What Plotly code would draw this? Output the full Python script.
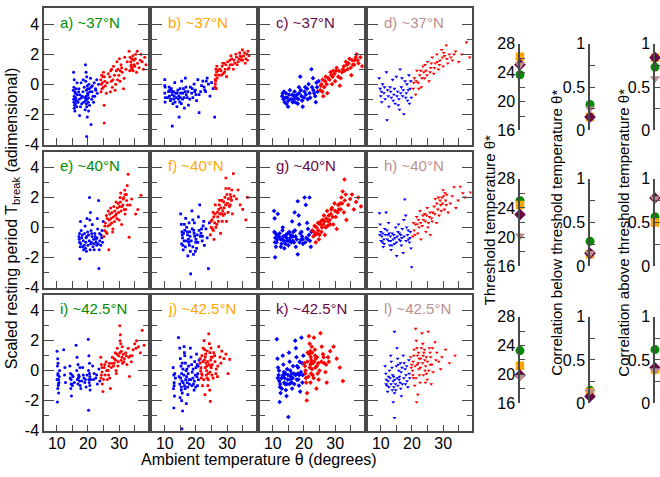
import plotly.graph_objects as go

# ---- scatter panels: (ambient temperature, scaled resting period) ----
A_BLUE = [(15.4,0.8),(15.6,0.3),(15.5,-0.2),(15.8,-0.5),(15.6,-0.8),(15.9,-1.0),(15.5,-1.2),(15.7,-1.4),(15.6,-1.6),(16.1,-0.9),(16.3,-1.1),(16.0,-0.6),(16.4,-1.5),(15.4,-1.0),(16.2,-0.3),
          (17.1,-0.3),(17.4,-0.7),(17.2,-1.0),(17.6,-1.5),(17.3,-2.1),(17.8,0.1),(17.9,-0.9),(18.4,-0.5),(18.6,-1.2),(18.2,-0.8),
          (19.2,1.3),(19.4,0.8),(19.6,0.5),(19.3,0.2),(19.8,-0.1),(19.5,-0.4),(19.9,-0.6),(19.4,-0.8),(19.7,-1.0),(20.1,-1.2),(19.6,-1.5),(20.2,-1.8),(19.8,-2.2),(19.6,-3.5),(20.4,-0.3),(20.3,0.0),(20.0,-0.7),(19.5,-1.3),
          (21.0,-0.2),(21.3,-0.5),(21.6,-0.8),(22.0,0.1),(22.4,-0.3),(21.8,-1.2),(21.0,-2.7),(22.8,0.3),(23.0,-0.6),(23.4,0.0),(22.5,-0.4),(21.4,-0.1),
          (15.3,-0.4),(15.8,-1.8),(16.0,-1.3),(16.6,-0.7),(16.8,-1.2),(17.0,-0.5),(18.0,-1.3),(18.8,-0.2),(19.0,-0.9),(19.2,-1.1),(19.9,-0.3),(20.2,-0.9),(20.5,-1.4),(20.6,-0.5),(20.8,0.4),(21.2,-1.0),(22.2,-0.8),(18.5,0.3),(16.5,0.1),(19.1,-1.7)]
A_RED = [(24.1,0.3),(24.3,0.0),(24.5,-0.3),(24.2,-0.5),(24.8,0.5),(25.2,-1.4),(25.2,-2.6),(25.4,0.2),(25.6,-0.1),(25.9,-0.6),(25.0,0.8),(24.6,0.1),
         (27.0,0.5),(27.3,0.9),(27.5,0.2),(27.8,-0.2),(28.2,1.2),(28.5,0.6),(28.7,-0.4),(28.9,0.0),(27.2,-0.5),
         (29.3,1.5),(29.6,1.0),(29.9,0.6),(30.3,0.2),(30.6,1.3),(31.0,0.8),(31.4,-0.3),(31.8,1.8),(31.6,0.4),(30.8,1.1),
         (33.2,2.2),(33.5,1.8),(33.7,1.5),(33.9,1.3),(34.2,1.1),(34.5,0.9),(34.7,1.6),(35.0,1.2),(35.3,2.0),(35.6,0.8),(35.9,1.4),(34.0,1.0),(34.4,1.9),(33.8,1.2),
         (37.0,2.0),(37.4,1.5),(37.8,1.0),(38.2,1.8),(38.6,1.3),
         (24.4,0.6),(24.9,-0.2),(25.3,0.5),(26.2,0.1),(26.5,0.7),(27.6,1.0),(28.0,0.3),(29.1,0.9),(29.5,0.3),(30.1,1.7),(30.4,0.9),(32.2,1.0),(32.6,1.5),(33.4,0.9),(34.1,1.7),(34.8,1.3),(35.2,1.7),(35.8,2.2),(36.4,1.1),(36.8,1.6)]

B_BLUE = [(10.0,0.3),(10.1,-0.2),(10.0,-0.6),(10.2,-0.9),(10.1,-1.2),
          (11.2,-0.5),(11.5,-0.8),(11.8,-1.1),(12.1,-0.3),(12.4,-0.7),(12.6,-1.3),(12.9,-1.0),(13.2,0.1),(13.5,-0.6),(12.4,-2.8),(13.7,-0.9),(13.9,-1.5),(11.6,-0.4),(12.8,-0.5),
          (14.2,-0.4),(14.5,-0.8),(14.6,-2.2),(14.8,-1.2),(15.1,-0.6),(15.4,0.2),(15.7,-1.0),(16.0,-0.3),(16.3,-1.6),(16.6,0.4),(16.9,-0.7),(17.2,-0.9),(17.6,-1.4),(15.0,-0.9),(16.5,-0.5),
          (18.2,-0.2),(18.6,-0.6),(19.0,-0.9),(19.4,0.0),(19.8,-0.4),(20.2,-1.1),(20.6,0.3),(21.0,-0.7),(21.0,-1.9),(21.5,-0.5),(19.6,-0.5),
          (22.2,0.2),(22.6,-0.2),(23.1,-0.5),(23.6,0.4),(24.0,0.0),(24.5,-0.8),(26.0,-2.2),(25.0,0.1),(25.5,-0.3),(23.3,0.2),
          (10.0,-0.1),(11.0,-0.9),(11.4,-0.2),(12.0,-1.0),(12.2,-0.5),(13.0,-0.8),(13.3,-1.2),(14.0,-0.6),(14.4,-1.0),(14.9,-0.3),(15.3,-1.3),(15.8,-0.6),(16.2,-0.9),(16.8,-0.2),(17.4,-0.5),(18.0,-1.0),(18.8,-0.3),(20.0,-0.7),(21.8,-0.1),(22.8,-0.4)]
B_RED = [(26.1,-0.2),(26.2,0.3),(26.3,0.6),(26.4,1.0),(26.2,0.0),(26.6,0.8),(26.8,0.4),(26.5,-0.3),(27.0,0.9),
         (28.0,0.9),(28.4,1.2),(28.7,0.7),(29.0,1.4),(29.4,1.0),(29.8,0.5),(28.2,0.6),
         (30.2,1.5),(30.6,1.1),(31.0,1.3),(31.5,1.7),(32.0,1.0),(32.5,1.4),(31.2,1.9),
         (33.0,1.8),(33.5,1.5),(34.0,2.1),(34.4,1.6),(34.9,2.3),(35.3,1.9),(35.8,1.4),(36.3,2.0),(36.7,2.2),(34.6,1.8),
         (26.3,0.2),(26.7,1.2),(27.3,0.6),(27.6,1.0),(28.6,1.4),(29.2,0.8),(29.6,1.3),(30.4,1.0),(30.9,1.6),(31.7,1.3),(32.2,1.6),(32.8,2.0),(33.2,1.3),(33.8,1.7),(34.2,1.9),(35.0,1.6),(35.6,2.1),(36.0,1.7),(36.5,1.6),(37.0,1.9)]

C_BLUE = [(13.0,-0.8),(13.4,-1.0),(13.8,-1.2),(14.2,-0.6),(14.6,-0.9),(15.0,-1.1),(15.5,-0.4),(13.6,-0.5),(14.9,-1.5),
          (16.2,-0.7),(16.6,-1.0),(17.0,-0.5),(17.5,-0.9),(18.0,-1.3),(18.4,-0.2),(18.8,0.5),(19.2,-0.8),(19.6,-1.5),(17.2,-1.2),(18.5,-0.6),
          (20.2,-0.5),(20.6,-0.7),(21.0,-0.3),(21.5,0.0),(22.0,-0.9),(22.4,1.0),(22.9,0.4),(23.3,-0.6),(23.8,-1.2),(24.2,-0.2),(24.7,0.2),(21.2,-1.0),(23.0,-0.4),
          (13.2,-0.6),(14.0,-0.9),(14.4,-1.3),(15.2,-0.7),(15.8,-1.0),(16.4,-1.2),(16.9,-0.8),(17.8,-0.7),(18.2,-1.0),(19.0,-0.4),(19.4,-1.1),(20.0,-0.9),(20.4,-0.2),(21.8,-0.6),(22.6,-0.2),(23.6,-0.8),(24.4,-0.5),(24.0,0.1)]
C_RED = [(25.2,-0.4),(25.6,0.0),(26.0,0.3),(26.5,-0.2),(27.0,0.5),(27.5,-0.6),(26.2,-0.8),
         (28.2,0.3),(28.8,0.6),(29.4,0.9),(30.0,0.2),(30.5,1.1),(31.0,0.5),(31.5,-0.1),(29.0,0.0),
         (32.2,0.8),(32.8,1.2),(33.4,1.5),(34.0,1.0),(34.6,1.7),(35.2,0.6),(35.7,1.3),
         (36.3,1.6),(36.9,2.0),(37.5,1.4),(38.1,1.8),(38.7,1.2),
         (25.4,-0.1),(25.9,-0.5),(26.8,0.2),(27.3,0.0),(27.8,0.4),(28.5,0.8),(29.2,0.5),(29.8,0.7),(30.3,0.9),(31.2,0.9),(31.8,0.4),(32.5,1.0),(33.1,0.9),(33.8,1.3),(34.3,1.4),(35.0,1.1),(35.5,1.6),(36.1,1.3),(36.6,1.8),(37.2,1.6)]

D_BLUE = [(9.5,0.4),(9.8,-0.3),(10.0,-0.8),(10.3,-1.2),(10.6,0.0),(11.0,-0.6),(11.4,-1.0),(11.8,0.8),(12.2,-0.4),(12.6,-1.5),(13.0,-0.2),(13.4,-0.9),(13.8,0.3),(14.2,-0.7),(14.6,-1.3),
          (15.0,0.5),(15.4,-0.5),(15.8,-1.0),(16.2,1.0),(16.6,-0.2),(17.0,-0.8),(17.4,-2.0),(17.8,0.2),(18.2,-0.6),(18.6,-1.1),(19.0,0.6),(19.4,-0.3),(19.8,-0.9),(12.0,-2.4),(16.0,-1.7),
          (10.2,-0.5),(11.2,-0.2),(12.4,-0.8),(13.2,-0.5),(14.0,-1.1),(14.4,-0.3),(15.2,-0.8),(15.6,-1.4),(16.4,-0.6),(16.8,0.4),(17.2,-0.4),(18.0,-0.9),(18.4,0.0),(18.8,-0.4),(19.2,-1.3),(19.6,0.2)]
D_RED = [(20.4,-0.3),(20.8,0.4),(21.2,-0.7),(21.6,0.9),(22.0,0.1),(22.5,0.6),(23.0,-0.2),(23.5,1.2),(24.0,0.4),(24.5,0.9),(25.0,1.5),(25.5,0.2),(26.0,1.1),(26.5,1.8),(27.0,0.7),
         (27.5,1.4),(28.0,2.0),(28.5,1.0),(29.0,1.6),(29.5,2.3),(30.0,1.2),(30.5,1.9),(31.0,2.6),(31.5,1.4),(32.0,2.0),(33.0,1.6),(34.0,2.2),(35.0,1.5),(36.0,2.0),(37.5,2.8),(38.5,1.8),
         (20.6,0.1),(21.4,0.2),(22.2,-0.3),(22.8,0.9),(23.2,0.4),(23.8,0.8),(24.2,1.3),(24.8,0.6),(25.8,0.8),(26.2,1.4),(27.2,1.1),(28.2,1.5),(28.8,1.3),(29.8,1.8),(30.2,2.1),(31.2,1.7),(32.5,1.8),(33.5,2.0)]

E_BLUE = [(17.1,-0.6),(17.3,-1.0),(17.5,-1.3),(17.2,-0.8),(17.6,0.4),(17.8,-0.2),(17.4,-2.1),
          (18.2,-0.5),(18.5,-0.9),(18.8,-1.2),(19.1,0.1),(19.4,-0.7),(19.7,0.6),(19.2,-1.4),(19.9,-0.3),(18.6,-1.5),
          (20.5,2.0),(20.8,1.0),(20.6,0.5),(21.0,-0.2),(21.3,-0.6),(21.1,-1.0),(21.6,-1.3),(21.8,-0.8),(21.4,0.2),(20.9,-1.1),
          (22.2,-0.4),(22.5,-0.8),(22.8,-1.2),(23.1,-0.1),(23.4,1.8),(23.0,0.6),(23.6,-1.5),(23.5,-2.75),(23.8,-0.9),(22.6,-1.0),
          (24.2,-0.5),(24.5,-0.2),(24.7,-1.0),(24.9,0.4),(24.4,-0.7),
          (17.3,-0.4),(17.7,-1.1),(18.0,-0.7),(18.3,-1.3),(18.9,-0.4),(19.3,-1.0),(19.6,-0.6),(20.0,-1.2),(20.2,-0.5),(20.4,-0.9),(21.2,-0.4),(21.9,-1.1),(22.3,-0.6),(22.9,-0.7),(23.3,-1.1),(23.7,-0.4),(24.1,-1.2),(20.7,-1.5),(19.5,-1.6),(22.0,-1.5)]
E_RED = [(25.1,-0.6),(25.3,-0.2),(25.6,0.3),(25.9,0.8),(26.1,-0.4),(26.4,0.1),(26.7,-1.5),(26.8,0.5),
         (27.1,0.2),(27.4,0.6),(27.7,1.0),(28.0,-0.1),(28.3,1.4),(28.5,0.4),(28.8,0.8),(27.9,-0.3),
         (29.1,0.9),(29.4,1.3),(29.7,1.6),(30.0,0.5),(30.3,2.0),(30.6,1.1),(30.8,0.2),(30.5,2.3),
         (31.2,1.5),(31.5,2.0),(31.8,2.5),(32.1,1.2),(32.4,1.8),(32.6,2.8),(31.9,0.9),(32.9,3.55),
         (33.5,1.5),(35.3,0.9),(33.2,-0.65),(37.0,2.15),(34.0,1.9),(36.0,1.2),
         (25.4,0.1),(25.8,-0.3),(26.2,0.6),(26.5,1.1),(27.0,0.9),(27.3,1.3),(27.6,0.3),(28.1,0.7),(28.6,1.1),(29.0,1.7),(29.3,0.6),(29.8,1.0),(30.1,1.4),(30.4,1.7),(30.9,1.4),(31.3,1.9),(31.6,1.2),(31.9,2.2),(32.3,2.2),(32.7,1.5)]

F_BLUE = [(15.1,0.9),(15.3,0.2),(15.5,-0.3),(15.7,-0.7),(15.4,-1.1),(15.9,-1.5),(16.2,-0.9),(16.0,-0.4),
          (16.7,0.6),(17.0,0.0),(17.3,-0.5),(17.6,-0.8),(17.9,-1.2),(18.2,-1.6),(18.0,-0.3),(17.4,-1.9),(18.3,-3.1),
          (18.7,1.1),(19.0,0.5),(19.3,-0.2),(19.6,-0.6),(19.9,-1.0),(20.2,-1.4),(19.5,0.3),(20.0,-0.8),(19.2,-1.8),
          (20.8,0.7),(21.2,1.5),(21.6,-0.4),(22.0,-0.9),(22.3,0.1),(22.7,-1.2),(21.4,-0.6),(22.5,0.4),
          (23.2,-0.1),(23.6,-0.7),(24.0,-2.75),(24.3,0.3),
          (15.6,-0.5),(15.8,-1.2),(16.4,-0.2),(16.6,-1.3),(17.0,-0.9),(17.2,-0.3),(17.7,-1.0),(18.1,-0.6),(18.5,-0.9),(18.8,-0.1),(19.0,-1.3),(19.4,-0.4),(19.8,-1.6),(20.4,-0.5),(20.6,-1.0),(21.0,-0.2),(21.8,-0.1),(22.1,-0.6),(17.8,0.3),(16.3,0.2)]
F_RED = [(24.6,-0.5),(24.9,0.0),(25.2,0.5),(25.5,1.0),(25.8,-0.8),(26.0,0.3),(26.2,1.5),(25.6,-0.2),
         (26.7,0.2),(27.0,0.7),(27.3,1.2),(27.6,1.8),(27.9,-0.4),(28.2,0.9),(28.4,0.4),(27.5,1.5),
         (28.7,0.8),(29.0,1.3),(29.3,2.0),(29.6,2.6),(29.8,0.4),(30.1,1.6),(29.6,3.3),(30.3,1.0),
         (30.7,1.4),(31.0,2.2),(31.4,1.8),(32.0,3.6),(31.7,0.9),(31.2,2.0),
         (33.0,1.9),(33.5,2.5),(34.2,1.5),(36.0,0.5),(35.0,1.2),(36.5,2.0),
         (24.8,0.4),(25.3,-0.1),(25.7,0.7),(26.1,0.9),(26.4,0.0),(26.9,1.0),(27.2,0.4),(27.7,0.9),(28.0,1.3),(28.3,1.8),(28.6,1.1),(28.9,1.7),(29.2,0.9),(29.5,1.5),(29.9,2.2),(30.4,1.9),(30.6,2.6),(31.0,1.5),(31.5,2.5),(32.2,2.1)]

G_BLUE = [(10.4,1.1),(10.6,0.6),(10.5,-0.3),(10.8,-0.7),(10.7,-1.0),(11.0,-1.3),(10.75,-2.0),(11.3,-0.5),(11.6,0.9),
          (12.2,-0.4),(12.5,-0.8),(12.8,-1.1),(13.1,-0.2),(13.4,-0.6),(13.7,-1.4),(13.2,0.0),
          (14.2,-0.5),(14.6,-0.9),(15.0,-1.2),(15.3,-0.3),(15.6,-0.7),(15.9,-1.0),
          (16.2,0.4),(16.5,-0.6),(16.8,-1.0),(17.1,-0.2),(17.0,1.0),(17.4,-1.3),(17.7,-0.8),
          (18.0,1.75),(18.3,0.8),(18.5,0.2),(18.8,-0.4),(19.1,-0.8),(18.0,-1.8),(19.4,-0.6),(19.7,-1.1),
          (20.2,2.0),(21.8,2.0),(20.6,1.5),(21.0,0.3),(21.3,-0.1),(21.6,-0.5),(21.9,-0.9),(22.2,-1.3),(20.8,-0.7),(22.4,-0.3),
          (10.9,-0.4),(11.2,-1.0),(11.5,-0.8),(12.0,-0.6),(12.6,-1.3),(13.0,-0.8),(13.6,-0.9),(14.0,-1.1),(14.4,-0.7),(14.8,-0.4),(15.2,-0.9),(15.8,-0.5),(16.4,-0.9),(16.6,-0.3),(17.3,-0.6),(18.6,-1.0),(19.2,-0.3),(19.6,-0.8),(20.4,-1.0),(21.2,-0.8)]
G_RED = [(22.7,-0.2),(23.0,-0.6),(23.4,0.1),(23.8,-1.0),(24.2,-0.4),(24.5,0.3),(24.8,-0.8),
         (25.2,0.2),(25.6,-0.3),(26.0,0.5),(26.4,0.8),(26.7,-0.5),(27.0,0.0),(27.4,1.1),(27.8,0.4),
         (28.2,0.5),(28.6,0.9),(29.0,1.3),(29.4,0.2),(29.8,1.6),(30.2,0.7),(30.5,-0.1),(30.8,1.0),
         (31.2,1.2),(31.6,1.6),(32.0,2.0),(32.4,2.4),(32.8,1.0),(33.1,1.8),(33.0,3.2),(33.6,0.5),
         (34.2,1.5),(34.8,1.9),(35.4,2.2),(36.0,1.2),(36.7,1.7),(37.4,2.0),(38.3,1.4),
         (23.2,-0.3),(23.6,-0.5),(24.0,0.0),(24.6,-0.2),(25.0,-0.5),(25.4,0.4),(25.8,0.0),(26.2,0.2),(26.6,0.4),(27.2,0.6),(27.6,0.1),(28.0,0.8),(28.4,0.2),(28.8,1.2),(29.2,0.7),(30.0,1.1),(31.0,1.5),(31.8,1.2),(32.2,1.6),(33.4,2.2)]

H_BLUE = [(9.6,0.95),(9.8,0.2),(10.0,-0.3),(10.3,-0.6),(10.5,-1.0),(10.8,-1.3),(11.0,-0.8),(11.3,-0.1),
          (11.7,1.0),(12.0,-0.2),(12.3,-0.5),(12.6,-0.9),(12.9,-1.2),(13.1,-0.6),(13.3,-1.5),(12.5,0.3),
          (13.7,-0.4),(14.0,-0.8),(14.4,-1.1),(14.8,0.0),(15.1,-1.9),(15.3,-0.6),
          (15.7,0.2),(16.0,-0.4),(16.3,-0.9),(16.6,-1.2),(16.9,-0.1),(17.2,-1.7),(17.4,0.5),
          (17.7,1.87),(18.0,0.8),(18.3,0.0),(18.6,-0.5),(18.9,-0.8),(19.2,-1.0),(19.9,-2.65),(19.5,-0.3),(19.7,-1.4),
          (9.7,-0.5),(10.1,-0.9),(10.6,-0.4),(11.1,-1.1),(11.5,-0.5),(12.1,-0.8),(12.7,-0.4),(13.2,-0.9),(13.6,-1.2),(14.2,-0.5),(14.6,-0.7),(15.0,-1.0),(15.5,-0.3),(15.9,-0.8),(16.4,-0.5),(16.8,-0.7),(17.5,-0.6),(18.1,-0.9),(18.8,-0.2),(19.4,-0.7)]
H_RED = [(20.3,-0.6),(20.7,-0.2),(21.1,0.2),(21.5,0.7),(21.9,-0.4),(22.3,0.0),(22.6,1.1),(22.9,-0.8),
         (23.3,0.1),(23.7,0.5),(24.1,0.9),(24.5,-0.3),(24.9,1.3),(25.3,0.3),(25.6,0.7),(25.9,-0.5),
         (26.3,0.6),(26.7,1.0),(27.1,1.4),(27.5,1.9),(27.9,0.3),(28.3,1.2),(28.7,0.8),
         (29.2,1.5),(29.6,2.0),(30.0,2.5),(30.4,1.2),(30.8,1.8),(31.2,2.2),(31.6,1.0),
         (32.3,1.6),(32.9,2.1),(33.5,2.7),(34.1,1.3),(34.8,1.8),(35.5,2.73),(37.0,2.0),(38.8,2.35),(36.3,2.3),
         (20.5,0.3),(21.0,-0.5),(21.7,0.2),(22.1,0.5),(22.8,0.3),(23.5,0.8),(24.3,0.4),(24.7,0.8),(25.1,0.0),(25.8,1.0),(26.5,0.4),(27.3,0.9),(28.0,1.6),(28.5,2.0),(29.0,1.8),(29.4,1.1),(29.8,1.6),(30.2,2.1),(30.6,2.3),(31.0,1.5)]

I_BLUE = [(10.1,1.3),(10.3,0.8),(10.2,0.3),(10.4,-0.2),(10.1,-0.6),(10.5,-0.9),(10.3,-1.2),(10.6,-1.5),(10.2,-2.1),(10.8,-0.4),(10.9,0.0),(10.7,-0.8),
          (12.2,1.4),(12.5,-0.3),(12.8,-0.8),(12.6,0.2),
          (14.2,0.3),(14.4,-0.2),(14.6,-0.6),(14.8,-0.9),(14.5,-1.2),(14.7,-1.7),(15.2,-0.4),(15.6,-0.8),
          (16.2,1.7),(16.5,0.9),(16.8,0.4),(17.0,-0.3),(17.3,-0.7),(17.5,-1.0),(16.9,-0.5),(17.7,-1.2),(16.4,0.0),
          (18.3,0.2),(18.7,-0.5),(19.0,-0.8),(19.4,-1.1),(19.7,-0.3),
          (20.1,2.1),(20.3,1.0),(20.5,0.5),(20.2,0.0),(20.6,-0.4),(20.4,-0.8),(20.7,-1.3),(20.2,-2.65),(20.9,-0.6),
          (21.5,0.3),(22.0,-0.2),(22.5,-0.5),(23.0,-0.9),(23.5,0.1),(23.8,-0.7),
          (10.3,-0.3),(10.5,-1.0),(10.4,0.5),(10.6,-0.6),(14.3,-0.5),(14.6,-0.9),(14.9,-0.3),(15.0,-1.0),(16.6,-0.6),(16.8,-0.9),(17.2,-0.4),(17.4,0.2),(18.0,-0.7),(18.5,-0.3),(19.2,-0.6),(20.3,-0.6),(20.5,-0.2),(20.6,-1.0),(21.8,-0.6),(22.8,-0.3)]
I_RED = [(24.1,0.9),(24.3,0.4),(24.5,-0.1),(24.2,-0.5),(24.6,-0.9),(24.8,-1.4),(25.2,0.2),(25.5,-0.3),(25.8,0.6),
         (26.2,-0.6),(26.5,0.0),(26.9,0.5),(27.2,-1.2),(27.5,0.2),(27.8,0.9),(26.6,-0.3),
         (28.2,0.3),(28.5,0.8),(28.8,1.2),(29.1,-0.2),(29.4,1.5),(29.7,0.6),(29.0,0.0),(29.9,1.0),
         (30.2,3.0),(30.4,2.4),(30.5,1.8),(30.7,1.3),(30.9,0.9),(31.1,0.5),(30.3,2.0),(31.3,1.1),
         (31.7,0.8),(32.1,1.2),(32.5,0.4),(32.9,1.5),(33.3,-0.4),(33.6,1.0),(33.9,0.6),
         (34.5,1.4),(35.0,1.8),(35.6,2.0),(36.2,1.6),(36.8,1.2),(37.4,2.7),(38.0,1.7),
         (24.3,-0.3),(24.5,0.2),(25.0,-0.6),(25.4,0.4),(26.0,0.0),(26.7,0.3),(27.0,-0.5),(27.7,0.5),(28.4,0.5),(28.9,0.7),(29.3,1.1),(29.6,0.3),(30.2,1.2),(30.6,0.7),(31.0,1.6),(31.5,0.6),(32.3,1.0),(33.1,0.9),(34.2,1.0),(35.4,1.5)]

J_BLUE = [(12.7,0.2),(12.9,-0.3),(13.0,-0.8),(12.8,-1.2),(13.1,-1.7),(12.9,-2.5),(13.4,-0.5),
          (14.4,2.2),(14.8,1.5),(15.0,0.8),(15.2,0.3),(15.4,-0.2),(15.5,-0.7),(15.3,-1.1),(15.6,-1.5),(15.4,-2.0),(15.7,-2.7),(15.5,-3.9),(14.6,-0.4),(15.8,0.1),(14.9,-1.8),
          (16.2,1.6),(16.4,1.0),(16.6,0.5),(16.8,0.0),(17.0,-0.4),(17.2,-0.8),(16.5,-1.2),(17.4,-1.6),(16.9,-2.2),(17.6,0.3),(17.8,-0.6),(16.3,1.2),
          (18.2,1.5),(18.4,0.9),(18.6,0.4),(18.8,-0.1),(19.0,-0.5),(19.2,-0.9),(19.4,-1.3),(19.6,0.6),(19.8,-0.3),
          (20.2,1.1),(20.4,0.4),(20.6,-0.2),(20.8,-0.6),(21.0,0.7),(20.5,-1.0),
          (13.0,-1.0),(13.2,-0.2),(14.8,-0.9),(15.1,-0.5),(15.3,-1.3),(15.6,0.5),(15.9,-0.8),(16.1,-0.3),(16.3,-1.0),(16.7,-0.6),(17.1,0.1),(17.3,-1.1),(17.5,-0.2),(17.9,-0.9),(18.3,-0.6),(18.7,-1.0),(19.1,0.1),(19.5,-0.7),(20.0,0.2),(20.3,-0.4),(20.7,0.3),(19.9,-1.1)]
J_RED = [(21.3,0.5),(21.5,0.0),(21.7,-0.5),(21.9,1.0),(22.1,-1.0),(22.3,1.5),(21.6,0.2),(22.0,-0.3),
         (22.6,2.0),(22.8,1.4),(23.0,0.9),(23.2,0.5),(23.4,0.0),(23.6,-0.5),(23.8,-1.0),(22.9,-1.6),(23.1,1.1),(23.5,0.3),(23.9,-0.2),
         (24.1,2.45),(24.3,1.8),(24.5,1.2),(24.7,0.7),(24.9,0.2),(25.1,-0.3),(24.4,-1.3),(24.6,-2.05),(25.3,0.9),(24.8,1.5),
         (25.7,1.2),(26.1,0.6),(26.5,0.1),(26.9,-0.4),(27.3,1.6),(27.7,0.9),
         (28.3,1.3),(29.0,0.8),(30.8,0.75),(30.3,-0.2),(29.6,1.1),
         (21.4,0.8),(21.8,-0.2),(22.2,0.6),(22.5,-0.6),(22.7,0.7),(23.0,0.2),(23.3,-0.3),(23.6,1.3),(23.7,0.6),(24.0,-0.6),(24.2,0.4),(24.5,-0.1),(24.7,0.3),(24.9,0.9),(25.2,0.4),(25.5,-0.5),(26.0,1.0),(26.4,-0.2),(27.0,0.3),(28.0,0.5)]

K_BLUE = [(11.3,2.1),(11.5,0.8),(11.7,0.2),(11.9,-0.3),(12.1,-0.7),(12.3,-1.1),(12.5,-1.5),(12.2,-2.1),(12.8,-0.5),
          (13.2,1.0),(13.4,0.4),(13.6,-0.1),(13.8,-0.5),(14.0,-0.9),(14.2,-1.3),(14.4,-1.7),(14.6,0.1),(14.8,-0.6),
          (15.2,1.2),(15.4,0.6),(15.6,0.0),(15.8,-0.4),(16.0,-0.8),(16.2,-1.2),(15.0,-3.1),(16.5,0.3),(16.8,-0.2),
          (17.2,2.0),(17.4,1.5),(17.6,0.9),(17.8,0.3),(18.0,-0.2),(18.2,-0.6),(18.4,-1.0),(18.6,0.6),(18.8,-1.4),
          (19.2,2.2),(19.4,0.5),(19.6,-0.3),(19.8,1.0),
          (11.6,-0.5),(12.0,0.0),(12.4,-0.9),(12.9,-1.2),(13.3,-0.3),(13.7,-0.8),(14.1,-0.2),(14.5,-0.9),(14.9,-0.3),(15.3,-0.9),(15.7,-0.6),(16.1,-0.2),(16.4,-0.5),(16.9,-0.9),(17.3,-0.3),(17.7,-0.6),(18.1,0.2),(18.5,-0.3),(19.0,-0.1),(19.5,-0.8)]
K_RED = [(20.1,0.5),(20.4,-0.2),(20.7,-0.8),(21.0,-1.5),(21.2,1.2),(20.5,0.0),(20.9,-2.0),
         (21.6,2.3),(21.8,1.8),(22.0,1.3),(22.2,0.9),(22.4,0.5),(22.6,0.1),(22.8,-0.3),(22.1,-0.8),(22.5,1.6),(22.3,0.7),
         (23.2,2.2),(23.5,1.4),(23.8,0.8),(24.1,0.3),(24.4,-0.2),(24.7,-0.6),(23.6,1.0),(24.0,-1.2),
         (25.3,2.5),(25.7,1.6),(26.1,1.1),(26.5,0.5),(26.9,-0.1),(27.3,-0.8),(27.7,0.9),
         (28.4,1.3),(29.5,1.6),(30.5,0.8),(31.5,0.2),(32.5,-0.7),
         (20.3,0.3),(20.6,-0.5),(21.1,0.6),(21.4,-0.4),(21.7,1.1),(21.9,0.2),(22.1,0.4),(22.3,-0.2),(22.6,1.2),(22.9,0.5),(23.1,-0.5),(23.3,0.6),(23.7,0.2),(24.2,0.9),(24.6,0.5),(25.0,0.0),(25.6,0.6),(26.3,0.9),(27.1,0.4),(28.0,0.6)]

L_BLUE = [(11.4,0.3),(11.6,-0.2),(11.8,-0.6),(12.0,-1.0),(12.2,-1.4),(12.5,-0.4),(12.8,0.0),
          (13.2,1.0),(13.4,0.6),(13.6,0.2),(13.8,-0.3),(14.0,-0.7),(14.2,-1.1),(14.4,-1.5),(14.0,-2.1),(14.4,-3.15),(14.4,2.6),(14.7,-0.9),
          (15.2,1.5),(15.4,0.8),(15.6,0.4),(15.8,0.0),(16.0,-0.4),(16.2,-0.8),(16.4,-1.2),(16.6,-1.7),(16.8,0.2),
          (17.2,1.0),(17.5,0.5),(17.8,0.1),(18.1,-0.3),(18.4,-0.7),(18.7,-1.1),(19.0,0.7),(19.3,-0.5),
          (11.7,-0.9),(12.3,-0.7),(12.6,-1.1),(13.0,-0.5),(13.3,-0.9),(13.7,-1.3),(14.1,-0.4),(14.5,-0.6),(14.8,-1.3),(15.0,0.3),(15.3,-0.5),(15.5,-1.0),(15.9,-0.6),(16.3,0.5),(16.5,-0.1),(16.9,-0.9),(17.4,-0.5),(17.9,-0.9),(18.3,0.3),(19.1,-0.2)]
L_RED = [(19.6,0.9),(19.9,0.4),(20.2,0.0),(20.5,-0.5),(20.7,1.4),(20.9,-1.0),(20.4,0.6),
         (21.2,2.8),(21.4,2.0),(21.6,1.5),(21.8,1.0),(22.0,0.5),(22.2,0.1),(22.4,-0.3),(22.6,-0.8),(21.9,-1.6),(21.5,-2.1),(22.8,0.8),
         (23.2,2.5),(23.5,1.8),(23.8,1.2),(24.1,0.7),(24.4,0.3),(24.7,-0.2),(24.9,-0.6),(23.6,1.0),(24.2,0.0),
         (25.2,2.6),(25.6,1.5),(26.0,0.9),(26.4,0.4),(26.8,-0.1),(26.2,-0.9),(25.8,1.2),
         (27.4,1.9),(28.0,1.2),(28.6,0.6),(29.2,0.1),(29.6,0.9),
         (30.8,1.4),(32.0,0.5),(33.8,1.0),
         (19.8,0.2),(20.3,-0.3),(20.6,1.0),(21.0,0.3),(21.3,-0.5),(21.7,0.4),(22.1,1.2),(22.3,0.8),(22.7,0.2),(23.0,1.5),(23.4,0.5),(23.7,-0.3),(24.0,1.4),(24.3,-0.8),(24.6,0.9),(25.0,0.6),(25.4,0.0),(25.9,0.4),(26.6,1.5),(27.7,0.7)]

PANELS = [("a", A_BLUE, A_RED), ("b", B_BLUE, B_RED), ("c", C_BLUE, C_RED), ("d", D_BLUE, D_RED),
          ("e", E_BLUE, E_RED), ("f", F_BLUE, F_RED), ("g", G_BLUE, G_RED), ("h", H_BLUE, H_RED),
          ("i", I_BLUE, I_RED), ("j", J_BLUE, J_RED), ("k", K_BLUE, K_RED), ("l", L_BLUE, L_RED)]
LATITUDES = ["~37°N", "~40°N", "~42.5°N"]

# ---- summary panels, order: green, orange, maroon, brown ----
THETA_STAR = [[23.7, 26.2, 25.1, 25.1], [25.0, 24.4, 23.1, 20.2], [23.3, 21.2, 19.9, 19.6]]
CORR_BELOW = [[0.30, 0.155, 0.155, 0.25], [0.286, 0.14, 0.15, 0.15], [0.15, 0.13, 0.08, 0.14]]
CORR_ABOVE = [[0.73, 0.84, 0.84, 0.60], [0.565, 0.50, 0.78, 0.775], [0.62, 0.39, 0.41, 0.38]]

SERIES_COLORS = ["#008B00", "#FFA500", "#670748", "#BC8F8F"]
SYMBOLS = ["circle", "square", "diamond", "triangle-down"]
DOT_SIZES = [3.0, 2.7, 3.6, 3.4]
BIG_SIZES = [9, 8.5, 9, 9]

W, H = 660, 477
FONT = "Liberation Sans, Arial, sans-serif"
AXC = "#4a4a4a"

fig = go.Figure()
layout = {}
annotations = []

for i, (letter, blue, red) in enumerate(PANELS):
    r, c = divmod(i, 4)
    n = i + 1
    left = 44 + 108 * c
    top = 0.5 + 148.5 * r
    xa = "x" if n == 1 else f"x{n}"
    ya = "y" if n == 1 else f"y{n}"
    for pts, col in ((blue, "#0000FF"), (red, "#FF0000")):
        fig.add_trace(go.Scatter(
            x=[p[0] for p in pts], y=[p[1] for p in pts], mode="markers", xaxis=xa, yaxis=ya,
            marker=dict(symbol=SYMBOLS[c], size=DOT_SIZES[c], color=col, line=dict(width=0)),
            showlegend=False, hoverinfo="skip",
        ))
    layout[f"xaxis{n}"] = dict(
        domain=[left / W, (left + 103.5) / W], anchor=ya, range=[5.9, 39.1],
        showline=True, mirror=True, linecolor=AXC, linewidth=1.5, showgrid=False, zeroline=False,
        ticks="inside", ticklen=7, tickwidth=1.3, tickcolor=AXC, ticklabelstandoff=-3,
        tickvals=[10, 20, 30], ticktext=["10", "20", "30"], showticklabels=(r == 2),
        minor=dict(tickvals=[15, 25, 35], ticks="inside", ticklen=7, tickwidth=1.3, tickcolor=AXC),
        tickfont=dict(size=16, color="black"),
    )
    layout[f"yaxis{n}"] = dict(
        domain=[1 - (top + 141.5) / H, 1 - top / H], anchor=xa, range=[-4.06, 5.06],
        showline=True, mirror="ticks", linecolor=AXC, linewidth=1.5, showgrid=False, zeroline=False,
        ticks="inside", ticklen=10, tickwidth=1.3, tickcolor=AXC,
        tickvals=[-4, -2, 0, 2, 4], ticktext=["-4", "-2", "0", "2", "4"], showticklabels=(c == 0),
        minor=dict(tickvals=[-3, -1, 1, 3], ticks="inside", ticklen=5, tickwidth=1.3, tickcolor=AXC),
        tickfont=dict(size=16, color="black"),
    )
    annotations.append(dict(
        text=f"{letter}) {LATITUDES[r]}", xref=xa, yref=ya, x=10.3, y=4.15,
        xanchor="left", yanchor="middle", showarrow=False,
        font=dict(size=15, color=SERIES_COLORS[c], family=FONT),
    ))

# summary axes
SUMMARY_X = [520, 590, 655]
SUMMARY_ROWS = [(37, 127), (177, 268), (320, 410)]
summaries = [(THETA_STAR, [16, 28], [16, 20, 24, 28], ["16", "20", "24", "28"], [18, 22, 26]),
             (CORR_BELOW, [0, 1], [0, 0.5, 1], ["0", "0.5", "1"], [0.25, 0.75]),
             (CORR_ABOVE, [0, 1], [0, 0.5, 1], ["0", "0.5", "1"], [0.25, 0.75])]
n = 12
for r, (t, b) in enumerate(SUMMARY_ROWS):
    for k, (vals, yr, tv, tt, mv) in enumerate(summaries):
        n += 1
        xa, ya = f"x{n}", f"y{n}"
        for s in range(4):
            fig.add_trace(go.Scatter(
                x=[0], y=[vals[r][s]], mode="markers", xaxis=xa, yaxis=ya, cliponaxis=False,
                marker=dict(symbol=SYMBOLS[s], size=BIG_SIZES[s], color=SERIES_COLORS[s], line=dict(width=0)),
                showlegend=False, hoverinfo="skip",
            ))
        x0 = SUMMARY_X[k]
        layout[f"xaxis{n}"] = dict(domain=[x0 / W, min(x0 + 5, W) / W], anchor=ya, range=[0, 1], visible=False)
        layout[f"yaxis{n}"] = dict(
            domain=[1 - b / H, 1 - t / H], anchor=xa, range=yr,
            showline=True, linecolor=AXC, linewidth=1.5, showgrid=False, zeroline=False,
            ticks="inside", ticklen=5, tickwidth=1.3, tickcolor=AXC,
            tickvals=tv, ticktext=tt, tickfont=dict(size=16, color="black"),
            minor=dict(tickvals=mv, ticks="inside", ticklen=5, tickwidth=1.3, tickcolor=AXC),
        )

label_font = dict(size=16, color="black", family=FONT)
side_font = dict(size=15, color="black", family=FONT)
annotations += [
    dict(text="Scaled resting period T<sub>break</sub> (adimensional)", xref="paper", yref="paper",
         x=12 / W, y=1 - 218 / H, textangle=-90, xanchor="center", yanchor="middle", showarrow=False, font=label_font),
    dict(text="Ambient temperature θ (degrees)", xref="paper", yref="paper",
         x=259 / W, y=1 - 468.5 / H, xanchor="center", yanchor="middle", showarrow=False, font=label_font),
    dict(text="Threshold temperature θ*", xref="paper", yref="paper",
         x=489 / W, y=1 - 220 / H, textangle=-90, xanchor="center", yanchor="middle", showarrow=False, font=side_font),
    dict(text="Correlation below threshold temperature θ*", xref="paper", yref="paper",
         x=557 / W, y=1 - 233 / H, textangle=-90, xanchor="center", yanchor="middle", showarrow=False, font=side_font),
    dict(text="Correlation above threshold temperature θ*", xref="paper", yref="paper",
         x=624 / W, y=1 - 233 / H, textangle=-90, xanchor="center", yanchor="middle", showarrow=False, font=side_font),
]

fig.update_layout(
    width=W, height=H, margin=dict(l=0, r=0, t=0, b=0),
    paper_bgcolor="white", plot_bgcolor="white",
    font=dict(family=FONT, size=16, color="black"),
    annotations=annotations, **layout,
)
# the page's default body margin would push the 660x477 figure off the window
fig.write_html("out.html", config={"displayModeBar": False},
               post_script="document.body.style.margin='0';document.body.style.overflow='hidden';")
